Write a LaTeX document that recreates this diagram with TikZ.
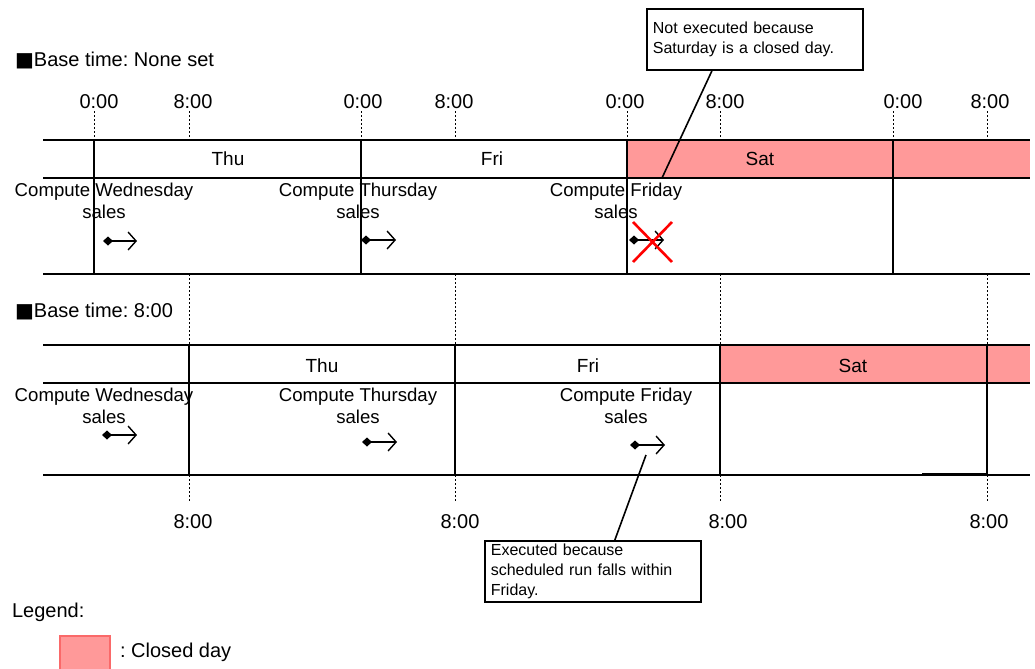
\documentclass[tikz,border=0pt]{standalone}
\usepackage{fontspec}
\setmainfont{Liberation Sans}
\newfontfamily\squarefont{DejaVu Sans}
\usetikzlibrary{arrows.meta}
\definecolor{closedpink}{RGB}{255,153,153}
\definecolor{closededge}{RGB}{250,105,105}
\frenchspacing
\begin{document}
\begin{tikzpicture}[x=0.5pt, y=-0.5pt,
    rule/.style={line width=1pt},
    tick/.style={dash pattern=on 1pt off 1pt, line width=0.45pt},
    run/.style={line width=0.7pt, {Diamond[length=5pt,width=4.5pt]}-{Straight Barb[length=4pt,width=9pt]}},
    note/.style={draw, line width=0.85pt, anchor=north west, align=left, text width=102pt,
      inner xsep=3pt, font=\fontsize{8}{10}\selectfont},
    head/.style={anchor=base west, font=\fontsize{10}{12}\selectfont},
    day/.style={anchor=base, font=\fontsize{9.5}{11}\selectfont},
    job/.style={align=center, font=\fontsize{9.3}{11}\selectfont},
    time/.style={anchor=base, font=\fontsize{10}{12}\selectfont}]
  \useasboundingbox (0,0) rectangle (1035,669);
  \node[head] (nobase) at (8,67) {{\squarefont■}Base time: None set};
  \node[head] (eightbase) at (8,317) {{\squarefont■}Base time: 8:00};
  \fill[closedpink] (627,140) rectangle (1030,178);
  \fill[closedpink] (720,345) rectangle (1030,383);
  \foreach \y in {140,178,274,345,383,475}
    \draw[rule] (43,\y) -- (1030,\y);
  \draw[rule] (922,473.5) -- (987,473.5);
  \foreach \x in {94,361,627,893}
    \draw[rule] (\x,140) -- (\x,274);
  \foreach \x in {189,455,720,987} {
    \draw[rule] (\x,345) -- (\x,475);
    \draw[tick] (\x,274) -- (\x,345);
    \draw[tick] (\x,475) -- (\x,503);
  }
  \foreach \x/\lx/\t [count=\i] in {94/99/0:00, 189/193/8:00, 361/363/0:00, 455/454/8:00,
      627/625/0:00, 720/725/8:00, 893/903/0:00, 987/990/8:00} {
    \draw[tick] (\x,111) -- (\x,140);
    \node[time] (mark\i) at (\lx,108) {\t};
  }
  \foreach \lx [count=\i] in {193,460,728,989}
    \node[time] (base\i) at (\lx,528) {8:00};
  \foreach \x/\y/\d/\n in {228/165/Thu/thua, 492/165/Fri/fria, 760/165/Sat/sata,
      322/372/Thu/thub, 588/372/Fri/frib, 853/372/Sat/satb}
    \node[day] (\n) at (\x,\y) {\d};
  \foreach \x/\y/\d/\n in {104/201/Wednesday/weda, 358/201/Thursday/thura, 616/201/Friday/fria,
      104/406/Wednesday/wedb, 358/406/Thursday/thurb, 626/406/Friday/frib}
    \node[job] (job\n) at (\x,\y) {Compute \d\\sales};
  \foreach \x/\y/\e in {103/241/137, 361/240/396, 629/240/664,
      102/435/137, 362/442/397, 630/445/665}
    \draw[run] (\x,\y) -- (\e,\y);
  \draw[red, line width=1.3pt] (633,222) -- (672,262) (672,222) -- (633,262);
  \node[note, inner ysep=6.6pt] (skipnote) at (646,8) {Not executed because\\Saturday is a closed day.};
  \coordinate (satcut) at (662,178);
  \draw[line width=0.8pt] ([xshift=-21.5pt]skipnote.south) -- (satcut);
  \node[note, inner ysep=1.5pt] (runnote) at (484,540) {Executed because\\scheduled run falls within\\Friday.};
  \coordinate (frirun) at (646,455);
  \draw[line width=0.8pt] ([xshift=11pt]runnote.north) -- (frirun);
  \node[head] (legend) at (5,617) {Legend:};
  \node[draw=closededge, fill=closedpink, line width=0.8pt, inner sep=0pt, anchor=north west,
    minimum width=25pt, minimum height=18pt] (closedkey) at (59,635) {};
  \node[head] (closedtext) at (113,657) {: Closed day};
\end{tikzpicture}
\end{document}
